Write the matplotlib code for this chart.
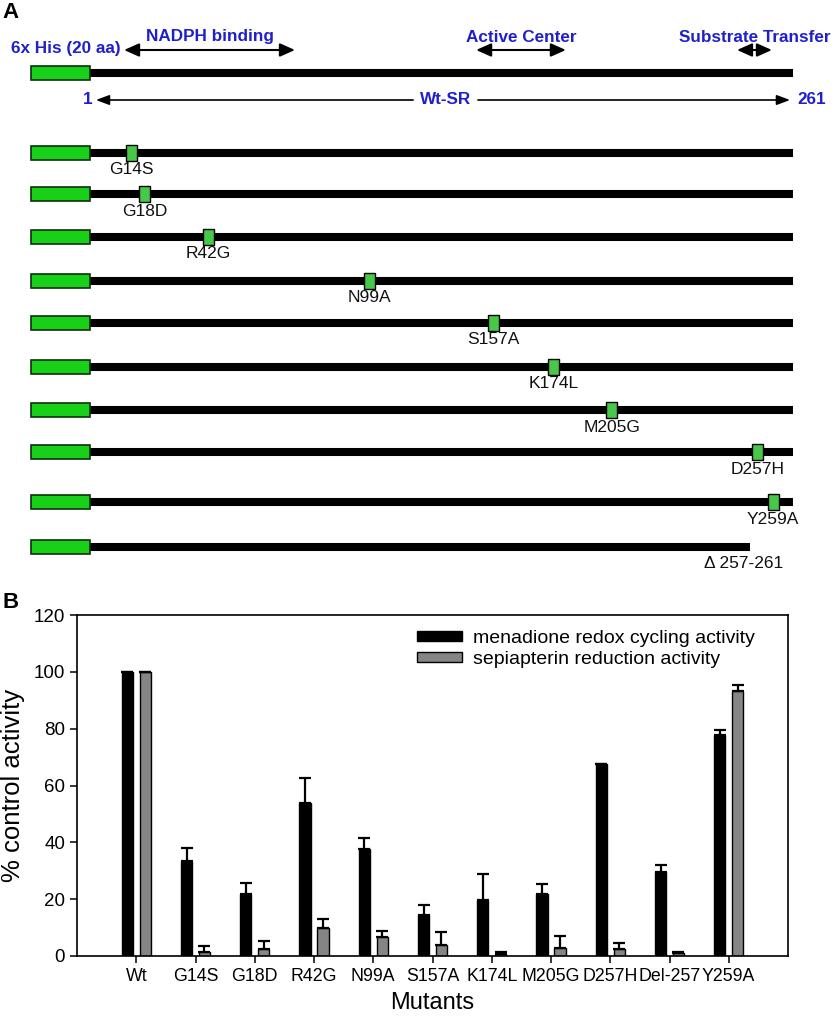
import matplotlib.pyplot as plt
from matplotlib.patches import Rectangle
import numpy as np

plt.rcParams['font.family'] = ['Liberation Sans', 'DejaVu Sans']

# ---- panel A: constructs (positions in residues, as drawn)
seq_len = 261
tag_start = -21
tag_label = '6x His (20 aa)'
regions = ['NADPH binding', 'Active Center', 'Substrate Transfer']
region_start = [13.6, 143.8, 240.3]
region_end = [76.8, 177.0, 253.2]
mutants = ['G14S', 'G18D', 'R42G', 'N99A', 'S157A', 'K174L', 'M205G', 'D257H', 'Y259A']
mut_pos = [16.4, 21.1, 44.9, 104.4, 150.2, 172.4, 193.9, 247.9, 253.7]
del_label = '\u0394 257-261'
del_end = 245.1

# ---- panel B: activities (% of control)
groups = ['Wt', 'G14S', 'G18D', 'R42G', 'N99A', 'S157A', 'K174L', 'M205G', 'D257H', 'Del-257', 'Y259A']
menadione = [100, 33.3, 21.9, 53.8, 37.8, 14.6, 19.8, 21.9, 67.5, 29.4, 77.9]
menadione_err = [0, 4.6, 3.7, 9.0, 3.6, 3.4, 8.9, 3.5, 0, 2.5, 1.6]
sepiapterin = [100, 1.5, 2.4, 9.9, 6.7, 3.9, 0.7, 2.9, 2.6, 0.9, 93.1]
sepiapterin_err = [0, 2.0, 2.8, 3.0, 2.2, 4.6, 0.6, 4.0, 2.0, 0.4, 2.1]

W, H = 840, 1018
blue = '#1f1fcc'
green = '#18d018'
fig = plt.figure(figsize=(W / 100, H / 100), dpi=100)

# panel A axes: x in residues, y in pixels from top
s = (793 - 90) / (seq_len - 1)
axA = fig.add_axes([0, 1 - 580 / H, 1, 580 / H])
axA.set_xlim(1 - 90 / s, 1 + (W - 90) / s)
axA.set_ylim(580, 0)
axA.axis('off')

row_y = [73, 153, 194, 237, 281, 323, 367, 410, 452, 502, 547]


def construct(y, end):
    axA.add_patch(Rectangle((tag_start, y - 7), 1 - tag_start, 14, fc=green,
                            ec='#0f2f0f', lw=1.2, zorder=3))
    axA.plot([1, end], [y, y], color='black', lw=5.8, solid_capstyle='butt', zorder=2)


# wild type with domains
construct(row_y[0], seq_len)
axA.text(-7.9, 48, tag_label, ha='center', va='center', fontsize=12.3,
         weight='bold', color=blue)
for name, a, b in zip(regions, region_start, region_end):
    axA.annotate('', xy=(b, 50), xytext=(a, 50),
                 arrowprops=dict(arrowstyle='<|-|>,head_length=0.9,head_width=0.4',
                                 color='black', lw=1.5, shrinkA=0, shrinkB=0))
    axA.text((a + b) / 2, 37, name, ha='center', va='center', fontsize=12.3,
             weight='bold', color=blue)

# Wt-SR span
axA.annotate('', xy=(3.2, 100), xytext=(120.5, 100),
             arrowprops=dict(arrowstyle='-|>,head_length=0.8,head_width=0.3',
                             color='black', lw=1.2, shrinkA=0, shrinkB=0))
axA.annotate('', xy=(259.9, 100), xytext=(144.5, 100),
             arrowprops=dict(arrowstyle='-|>,head_length=0.8,head_width=0.3',
                             color='black', lw=1.2, shrinkA=0, shrinkB=0))
axA.text(2.1, 100, '1', ha='right', va='center', fontsize=12.3, weight='bold', color=blue)
axA.text(132.5, 100, 'Wt-SR', ha='center', va='center', fontsize=12.3, weight='bold', color=blue)
axA.text(262.5, 100, str(seq_len), ha='left', va='center', fontsize=12.3, weight='bold', color=blue)

# point mutants
for i, (name, p) in enumerate(zip(mutants, mut_pos)):
    y = row_y[i + 1]
    construct(y, seq_len)
    axA.add_patch(Rectangle((p - 5.5 / s, y - 8), 11 / s, 16, fc='#48c848',
                            ec='black', lw=1.0, zorder=4))
    axA.text(p, y + 17, name, ha='center', va='center', fontsize=12.5, color='#111111')

# deletion
construct(row_y[-1], del_end)
axA.text(del_end - 2.2, row_y[-1] + 16, del_label, ha='center', va='center',
         fontsize=12.5, color='#111111')

fig.text(2 / W, 1 - 12 / H, 'A', fontsize=16, weight='bold', ha='left', va='center')
fig.text(2 / W, 1 - 602 / H, 'B', fontsize=16, weight='bold', ha='left', va='center')

# panel B
axB = fig.add_axes([77 / W, 1 - 956 / H, (788 - 77) / W, (956 - 615) / H])
x = np.arange(len(groups))
n = len(groups)
w = 0.19
off = 0.15
axB.bar(x - off, menadione, w, color='black', edgecolor='black', lw=1,
        label='menadione redox cycling activity')
axB.errorbar(x - off, menadione, yerr=[np.zeros(n), menadione_err], fmt='none',
             ecolor='black', elinewidth=1.6, capsize=4.5, capthick=1.6)
axB.bar(x + off, sepiapterin, w, color='#858585', edgecolor='black', lw=1,
        label='sepiapterin reduction activity')
axB.errorbar(x + off, sepiapterin, yerr=[np.zeros(n), sepiapterin_err], fmt='none',
             ecolor='black', elinewidth=1.6, capsize=4.5, capthick=1.6)

axB.set_xlim(-1, n)
axB.set_ylim(0, 120)
axB.set_yticks(np.arange(0, 121, 20))
axB.set_xticks(x)
axB.set_xticklabels(groups)
axB.tick_params(direction='out', length=5, width=1.1, pad=3.5)
axB.tick_params(axis='y', labelsize=13.5)
axB.tick_params(axis='x', labelsize=12.8)
for sp in axB.spines.values():
    sp.set_linewidth(1.2)
axB.set_ylabel('% control activity', fontsize=18.5, labelpad=6)
axB.set_xlabel('Mutants', fontsize=17, labelpad=5)

axB.legend(loc='upper left', bbox_to_anchor=(417 / W, 1 - 630 / H),
           bbox_transform=fig.transFigure, frameon=False, fontsize=14,
           handlelength=2.3, handleheight=0.47, handletextpad=0.6,
           labelspacing=0.2, borderpad=0, borderaxespad=0)

fig.savefig('out.png', dpi=100)
